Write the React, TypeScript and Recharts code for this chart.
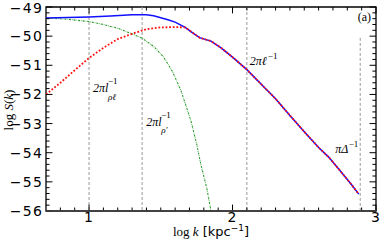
import React from "react";
import { ComposedChart, Line, XAxis, YAxis, ReferenceLine, ReferenceArea, Label } from "recharts";

// blue: total spectrum
const blueK = [0.7, 0.85, 1.0, 1.15, 1.3, 1.4, 1.45, 1.5, 1.55, 1.6, 1.67, 1.72, 1.77, 1.85, 1.92, 2.0, 2.1, 2.2, 2.3, 2.4, 2.5, 2.6, 2.67, 2.74, 2.83, 2.88];
const blueS = [-49.38, -49.36, -49.34, -49.31, -49.27, -49.27, -49.3, -49.37, -49.44, -49.52, -49.7, -49.88, -50.05, -50.17, -50.4, -50.72, -51.15, -51.65, -52.15, -52.72, -53.28, -53.82, -54.15, -54.56, -55.1, -55.42];

// red: rises on its own, then follows the blue curve
const redK = [0.7, 0.8, 0.9, 1.0, 1.1, 1.2, 1.3, 1.4, 1.5, 1.6, 1.67];
const redS = [-52.0, -51.6, -51.17, -50.75, -50.4, -50.1, -49.92, -49.76, -49.7, -49.69, -49.7];

// green: falls off steeply
const greenK = [0.7, 0.85, 1.0, 1.1, 1.2, 1.3, 1.37, 1.45, 1.52, 1.58, 1.64, 1.68, 1.71, 1.75, 1.78, 1.82, 1.85];
const greenS = [-49.38, -49.42, -49.5, -49.6, -49.73, -49.92, -50.07, -50.35, -50.72, -51.2, -51.86, -52.45, -52.9, -53.7, -54.42, -55.2, -56.0];

const xTicks = [1, 2, 3];
const yTicks = [-56, -55, -54, -53, -52, -51, -50, -49];
const xMinor = [0.8, 0.9, 1.1, 1.2, 1.3, 1.4, 1.5, 1.6, 1.7, 1.8, 1.9, 2.1, 2.2, 2.3, 2.4, 2.5, 2.6, 2.7, 2.8, 2.9];
const yMinor = [-55.8, -55.6, -55.4, -55.2, -54.8, -54.6, -54.4, -54.2, -53.8, -53.6, -53.4, -53.2, -52.8, -52.6, -52.4, -52.2, -51.8, -51.6, -51.4, -51.2, -50.8, -50.6, -50.4, -50.2, -49.8, -49.6, -49.4, -49.2];

// scale markers: [logk, top of line]
const markK = [1.0, 1.37, 2.1, 2.89];
const markTop = [-49, -49, -49, -50.06];

const X0 = 0.7, X1 = 3.0, Y0 = -56, Y1 = -49;

const zip = (k: number[], s: number[]) => k.map((x, i) => ({ x, y: s[i] }));
const blueData = zip(blueK, blueS);
const redData = zip(redK, redS).concat(blueData.filter((d) => d.x > 1.68));
const greenData = zip(greenK, greenS);

const serif = "Liberation Serif";
const sans = "DejaVu Sans";

type Part = { t: string; dx: number; dy: number; size?: number; italic?: boolean; anchor?: string };

const mathLabel = (parts: Part[]) => (props: any) => {
  const vb = props.viewBox || {};
  return (
    <g>
      {parts.map((p, i) => (
        <text
          key={i}
          x={vb.x + p.dx}
          y={vb.y + p.dy}
          fontFamily={serif}
          fontStyle={p.italic === false ? "normal" : "italic"}
          fontSize={p.size || 12}
          textAnchor={p.anchor || "start"}
          fill="#000"
        >
          {p.t}
        </text>
      ))}
    </g>
  );
};

const markLabels = [
  mathLabel([
    { t: "2πl", dx: 4, dy: 85 },
    { t: "−1", dx: 19, dy: 77, size: 9, italic: false },
    { t: "ρℓ", dx: 19, dy: 93, size: 9 },
  ]),
  mathLabel([
    { t: "2πl", dx: 4, dy: 119 },
    { t: "−1", dx: 19, dy: 111, size: 9, italic: false },
    { t: "ρ′", dx: 19, dy: 126, size: 9 },
  ]),
  mathLabel([
    { t: "2πℓ", dx: 3, dy: 58 },
    { t: "−1", dx: 21, dy: 52, size: 9, italic: false },
  ]),
  mathLabel([
    { t: "πΔ", dx: -12, dy: 115, anchor: "end" },
    { t: "−1", dx: -2, dy: 109, size: 9, italic: false, anchor: "end" },
  ]),
];

const XTitle = (props: any) => {
  const vb = props.viewBox;
  const cx = vb.x + vb.width / 2;
  return (
    <text x={cx} y={236} textAnchor="middle" fontSize={13} fill="#000">
      <tspan fontFamily={serif}>log </tspan>
      <tspan fontFamily={serif} fontStyle="italic">k</tspan>
      <tspan fontFamily={sans}> [kpc</tspan>
      <tspan fontFamily={sans} fontSize={9} dy={-5}>−1</tspan>
      <tspan fontFamily={sans} dy={5}>]</tspan>
    </text>
  );
};

const YTitle = () => (
  <text x={13} y={110} transform="rotate(-90 13 110)" textAnchor="middle" fontSize={13} fontFamily={serif} fill="#000">
    <tspan>log </tspan>
    <tspan fontStyle="italic">S</tspan>
    <tspan>(</tspan>
    <tspan fontStyle="italic">k</tspan>
    <tspan>)</tspan>
  </text>
);

const minus = (v: number) => String(v).replace("-", "−");

const tickStyle = { fontSize: 14, fontFamily: sans, fill: "#000", letterSpacing: 1.2 };

export default function App() {
  return (
    <div style={{ position: "absolute", left: 0, top: 0, width: 382, height: 244, background: "#fff" }}>
      <ComposedChart width={382} height={244} margin={{ top: 7, right: 6, bottom: 0, left: 0 }}>
        <XAxis
          type="number"
          dataKey="x"
          domain={[X0, X1]}
          ticks={xTicks}
          allowDataOverflow
          tickLine={false}
          axisLine={false}
          tickSize={0}
          tickMargin={1}
          height={33}
          tick={tickStyle}
        >
          <Label content={XTitle} />
        </XAxis>
        <YAxis
          type="number"
          dataKey="y"
          domain={[Y0, Y1]}
          ticks={yTicks}
          allowDataOverflow
          tickLine={false}
          axisLine={false}
          tickSize={0}
          tickMargin={3}
          width={46}
          tickFormatter={minus}
          tick={tickStyle}
        >
          <Label content={YTitle} />
        </YAxis>

        {markK.map((k, i) => (
          <ReferenceLine
            key={"m" + i}
            segment={[{ x: k, y: markTop[i] }, { x: k, y: Y0 }]}
            stroke="#999"
            strokeWidth={1}
            strokeDasharray="3 2"
            label={markLabels[i]}
          />
        ))}

        <Line data={greenData} dataKey="y" type="linear" stroke="#2a9a2a" strokeWidth={1.1} strokeDasharray="2 1 0.6 1" dot={false} isAnimationActive={false} />
        <Line data={blueData} dataKey="y" type="linear" stroke="#1010ff" strokeWidth={1.5} dot={false} isAnimationActive={false} />
        <Line data={redData} dataKey="y" type="linear" stroke="#ff1010" strokeWidth={1.8} strokeDasharray="1.8 1.8" dot={false} isAnimationActive={false} />

        {xTicks.concat(xMinor).map((k) => {
          const len = xTicks.includes(k) ? 0.22 : 0.12;
          return [
            <ReferenceLine key={"xb" + k} segment={[{ x: k, y: Y0 }, { x: k, y: Y0 + len }]} stroke="#000" strokeWidth={1} />,
            <ReferenceLine key={"xt" + k} segment={[{ x: k, y: Y1 }, { x: k, y: Y1 - len }]} stroke="#000" strokeWidth={1} />,
          ];
        })}
        {yTicks.concat(yMinor).map((v) => {
          const len = yTicks.includes(v) ? 0.045 : 0.025;
          return [
            <ReferenceLine key={"yl" + v} segment={[{ x: X0, y: v }, { x: X0 + len, y: v }]} stroke="#000" strokeWidth={1} />,
            <ReferenceLine key={"yr" + v} segment={[{ x: X1, y: v }, { x: X1 - len, y: v }]} stroke="#000" strokeWidth={1} />,
          ];
        })}

        <ReferenceArea x1={X0} x2={X1} y1={Y0} y2={Y1} fill="none" stroke="#000" strokeWidth={1.3} fillOpacity={0} />
        <ReferenceLine y={Y0} stroke="#444" strokeWidth={1.6} />

        <ReferenceLine
          segment={[{ x: X1, y: Y1 }, { x: X1, y: Y1 }]}
          stroke="none"
          label={mathLabel([{ t: "(a)", dx: -5, dy: 14, italic: false, anchor: "end" }])}
        />
      </ComposedChart>
    </div>
  );
}
